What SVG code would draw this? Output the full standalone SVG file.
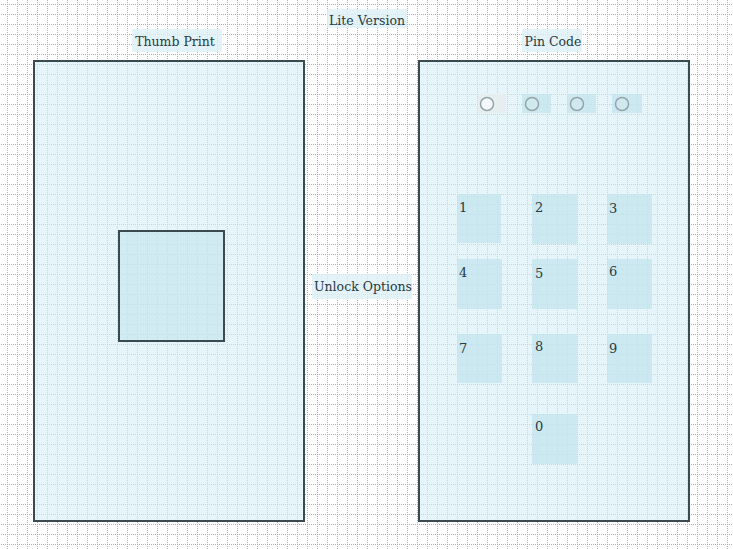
<svg xmlns="http://www.w3.org/2000/svg" width="733" height="549" viewBox="0 0 733 549">
<defs>
<pattern id="grid" x="7" y="4" width="10" height="10" patternUnits="userSpaceOnUse">
<path d="M0.5 0V10M0 0.5H10" stroke="#b0b0b0" stroke-width="1" stroke-dasharray="1 1" fill="none"/>
</pattern>
<style>
.frame{fill:#d4eef6;fill-opacity:0.6;stroke:#3b4a50;stroke-width:2}
.inner{fill:#c2e4ec;fill-opacity:0.6;stroke:#3b4a50;stroke-width:2}
.key{fill:#c2e4ec;fill-opacity:0.7}
.lbg{fill:#dcf0f6;fill-opacity:0.8}
.lbl{font-family:"DejaVu Serif","Liberation Serif",serif;font-size:12.5px;fill:#283a42}
.dig{font-family:"DejaVu Serif","Liberation Serif",serif;font-size:13px;fill:#283a42}
.dot{fill:#cfe9ef;stroke:#97a5a9;stroke-width:1.5}
</style>
</defs>
<rect width="733" height="549" fill="#ffffff"/>
<rect width="733" height="549" fill="url(#grid)"/>
<g id="lite-version">
<rect class="lbg" x="327" y="9" width="80" height="19"/>
<text class="lbl" x="367" y="25" text-anchor="middle">Lite Version</text>
</g>
<g id="thumb-print-label">
<rect class="lbg" x="132" y="29" width="90" height="23"/>
<text class="lbl" x="175" y="46" text-anchor="middle">Thumb Print</text>
</g>
<g id="pin-code-label">
<rect class="lbg" x="522" y="29" width="60" height="23"/>
<text class="lbl" x="553" y="46" text-anchor="middle">Pin Code</text>
</g>
<g id="thumb-print">
<rect class="frame" x="34" y="61" width="270" height="460"/>
<rect class="inner" x="119" y="231" width="105" height="110"/>
</g>
<g id="unlock-options">
<rect class="lbg" x="312" y="274" width="100" height="25"/>
<text class="lbl" x="363" y="291" text-anchor="middle">Unlock Options</text>
</g>
<g id="pin-code">
<rect class="frame" x="419" y="61" width="270" height="460"/>
<rect x="478" y="94" width="28" height="19" fill="#e6eef0"/>
<circle cx="487" cy="104" r="6.5" fill="#f4f8f9" stroke="#97a5a9" stroke-width="1.5"/>
<rect class="key" x="522" y="94" width="29" height="19"/>
<circle class="dot" cx="532" cy="104" r="6.5"/>
<rect class="key" x="567" y="94" width="29" height="19"/>
<circle class="dot" cx="577" cy="104" r="6.5"/>
<rect class="key" x="612" y="94" width="30" height="19"/>
<circle class="dot" cx="622" cy="104" r="6.5"/>
</g>
<g id="key-1"><rect class="key" x="457" y="194" width="44" height="49"/><text class="dig" x="459" y="212">1</text></g>
<g id="key-2"><rect class="key" x="532" y="194" width="45" height="50"/><text class="dig" x="535" y="212">2</text></g>
<g id="key-3"><rect class="key" x="607" y="194" width="45" height="50"/><text class="dig" x="609" y="213">3</text></g>
<g id="key-4"><rect class="key" x="457" y="259" width="45" height="50"/><text class="dig" x="459" y="277">4</text></g>
<g id="key-5"><rect class="key" x="532" y="259" width="45" height="50"/><text class="dig" x="535" y="278">5</text></g>
<g id="key-6"><rect class="key" x="607" y="259" width="45" height="50"/><text class="dig" x="609" y="276">6</text></g>
<g id="key-7"><rect class="key" x="457" y="334" width="45" height="49"/><text class="dig" x="459" y="353">7</text></g>
<g id="key-8"><rect class="key" x="532" y="334" width="45" height="49"/><text class="dig" x="535" y="351">8</text></g>
<g id="key-9"><rect class="key" x="607" y="334" width="45" height="49"/><text class="dig" x="609" y="353">9</text></g>
<g id="key-0"><rect class="key" x="532" y="414" width="45" height="50"/><text class="dig" x="535" y="431">0</text></g>
<g id="connectors"></g>
</svg>
